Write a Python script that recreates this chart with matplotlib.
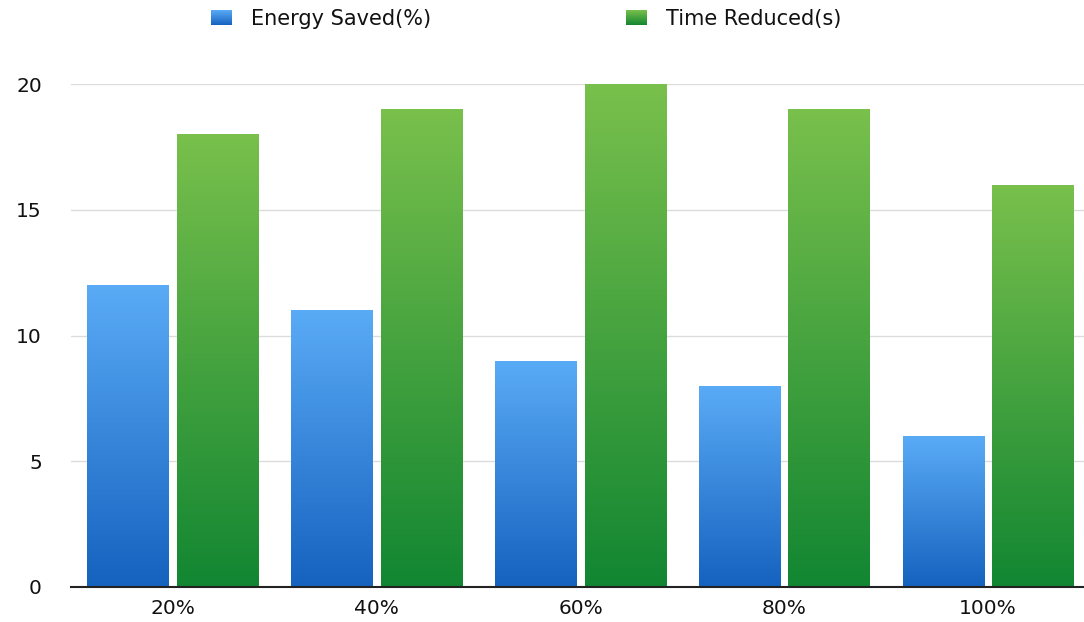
import numpy as np
import matplotlib.pyplot as plt
from matplotlib.colors import LinearSegmentedColormap

categories = ['20%', '40%', '60%', '80%', '100%']
energy_saved = [12, 11, 9, 8, 6]
time_reduced = [18, 19, 20, 19, 16]
series_names = ['Energy Saved(%)', 'Time Reduced(s)']
yticks = [0, 5, 10, 15, 20]

plt.rcParams['font.family'] = ['DejaVu Sans']

blue_cmap = LinearSegmentedColormap.from_list('blue', ['#1562bf', '#5aabf6'])
green_cmap = LinearSegmentedColormap.from_list('green', ['#128632', '#79c04c'])

fig = plt.figure(figsize=(10.84, 6.22), dpi=100)
W, H = 1084, 622
ax = fig.add_axes([71 / W, 35 / H, 1019 / W, (587 - 84) / H])

x = np.arange(len(categories))
width = 0.40
offset = 0.22
grad = np.linspace(0, 1, 256).reshape(-1, 1)


def gradient_bars(xs, heights, cmap):
    bars = ax.bar(xs, heights, width, color='none', edgecolor='none', zorder=2)
    for b in bars:
        x0, y0 = b.get_x(), b.get_y()
        im = ax.imshow(grad, cmap=cmap, origin='lower', aspect='auto',
                       extent=[x0, x0 + b.get_width(), y0, y0 + b.get_height()],
                       zorder=2)
        im.set_clip_path(b)
    return bars


gradient_bars(x - offset, energy_saved, blue_cmap)
gradient_bars(x + offset, time_reduced, green_cmap)

ax.set_xlim(-0.5, len(categories) - 0.5)
ax.set_ylim(0, 20)
ax.set_yticks(yticks)
ax.set_xticks(x)
ax.set_xticklabels(categories)
ax.yaxis.grid(True, color='#dcdcdc', linewidth=1)
ax.set_axisbelow(True)
for side in ['top', 'right', 'left']:
    ax.spines[side].set_visible(False)
ax.spines['bottom'].set_color('#222222')
ax.spines['bottom'].set_linewidth(1.5)
ax.spines['bottom'].set_zorder(3)
ax.tick_params(axis='both', length=0, labelsize=14.5, colors='#111111')
ax.tick_params(axis='y', pad=21)
ax.tick_params(axis='x', pad=9)

# legend: gradient swatches plus labels across the top
for (sx, tx), name, cmap in zip([(211, 251), (626, 666)], series_names,
                                [blue_cmap, green_cmap]):
    sw = fig.add_axes([sx / W, 1 - 25 / H, 21 / W, 15 / H])
    sw.imshow(grad, cmap=cmap, origin='lower', aspect='auto')
    sw.set_axis_off()
    fig.text(tx / W, 1 - 25 / H, name, fontsize=15, color='#111111',
             ha='left', va='baseline')

fig.savefig('out.png', dpi=100)
